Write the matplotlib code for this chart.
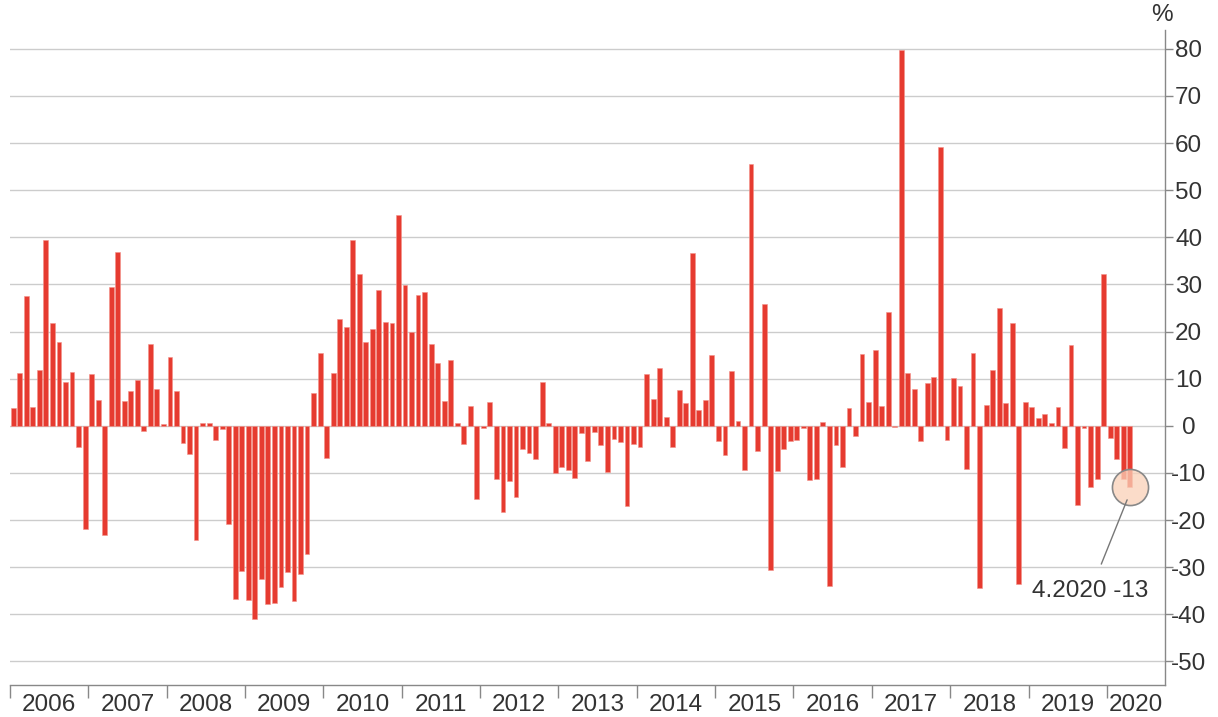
import matplotlib
matplotlib.use("Agg")
import matplotlib.pyplot as plt
import numpy as np

plt.rcParams['font.family'] = ['Liberation Sans', 'DejaVu Sans']
plt.rcParams['axes.unicode_minus'] = False

years = [str(y) for y in range(2006, 2021)]
v2006 = [3.8, 11.3, 27.6, 4.0, 11.8, 39.5, 21.8, 17.8, 9.3, 11.4, -4.5, -21.9]
v2007 = [11.1, 5.4, -23.2, 29.4, 36.8, 5.3, 7.3, 9.7, -1.1, 17.4, 7.9, 0.3]
v2008 = [14.6, 7.3, -3.7, -5.9, -24.3, 0.6, 0.5, -3.0, -0.7, -20.9, -36.7, -30.8]
v2009 = [-37.0, -41.0, -32.6, -37.8, -37.5, -34.1, -31.1, -37.2, -31.5, -27.3, 6.9, 15.5]
v2010 = [-6.9, 11.3, 22.7, 21.0, 39.5, 32.2, 17.8, 20.5, 28.8, 22.1, 21.8, 44.8]
v2011 = [29.8, 19.9, 27.8, 28.4, 17.4, 13.4, 5.2, 14.0, 0.5, -3.8, 4.3, -15.6]
v2012 = [-0.5, 5.0, -11.2, -18.3, -11.8, -15.0, -5.0, -5.8, -7.1, 9.2, 0.6, -10.0]
v2013 = [-8.7, -9.4, -11.0, -1.5, -7.5, -1.3, -4.1, -9.7, -2.9, -3.5, -17.1, -3.8]
v2014 = [-4.5, 10.9, 5.6, 12.3, 1.8, -4.4, 7.7, 4.8, 36.6, 3.3, 5.5, 15.0]
v2015 = [-3.3, -6.1, 11.6, 1.1, -9.4, 55.6, -5.3, 25.9, -30.7, -9.5, -5.0, -3.3]
v2016 = [-3.0, -0.4, -11.4, -11.3, 0.9, -34.0, -4.1, -8.7, 3.8, -2.1, 15.3, 5.0]
v2017 = [16.1, 4.3, 24.1, -0.3, 79.7, 11.3, 7.9, -3.3, 9.0, 10.4, 59.2, -3.0]
v2018 = [10.1, 8.4, -9.1, 15.5, -34.5, 4.5, 11.8, 25.0, 4.8, 21.9, -33.6, 5.1]
v2019 = [3.9, 1.7, 2.5, 0.6, 3.9, -4.6, 17.2, -16.9, -0.5, -12.9, -11.3, 32.2]
v2020 = [-2.5, -7.1, -11.2, -13.0]

values = (v2006 + v2007 + v2008 + v2009 + v2010 + v2011 + v2012 + v2013 +
          v2014 + v2015 + v2016 + v2017 + v2018 + v2019 + v2020)
yticks = list(range(-50, 81, 10))
annot_text = "4.2020 -13"

x = np.arange(len(values))
FS = 17.5
TXT = '#333333'

fig = plt.figure(figsize=(12.18, 7.17), dpi=100)
ax = fig.add_axes([10/1218, 1-685/717, (1165-10)/1218, (685-30)/717])

ax.bar(x, values, width=0.74, color='#e63b30', edgecolor='#f3928a', linewidth=0.4, zorder=3)

ax.set_xlim(-0.5, 176.4)
ax.set_ylim(-55, 84)

for t in yticks:
    ax.axhline(t, color='#cccccc', linewidth=1.0, zorder=1)

ax.yaxis.tick_right()
ax.set_yticks(yticks)
ax.set_yticklabels([str(t) for t in yticks], fontsize=FS, color=TXT)
ax.tick_params(axis='y', direction='out', length=6, width=1, color='#888888', pad=11)
for lab in ax.get_yticklabels():
    lab.set_horizontalalignment('center')

# year boundaries as ticks, labels centered between
bounds = [i * 12 - 0.5 for i in range(len(years))]
ax.set_xticks(bounds)
ax.set_xticklabels([])
ax.tick_params(axis='x', direction='out', length=9, width=1, color='#888888')
centers = [b + 6 for b in bounds[:-1]] + [(bounds[-1] + 176.4) / 2]
for c, yl in zip(centers, years):
    ax.text(c, -20/655, yl, transform=ax.get_xaxis_transform(), ha='center', va='center',
            fontsize=FS, color=TXT)

for s in ['left', 'top']:
    ax.spines[s].set_visible(False)
for s in ['right', 'bottom']:
    ax.spines[s].set_color('#888888')
    ax.spines[s].set_linewidth(1.0)

fig.text(1162/1218, 1-15/717, '%', ha='center', va='center', fontsize=FS, color=TXT)

# annotation
last = len(values) - 1
ax.plot(last, values[-1], 'o', ms=26, mfc=(0.98, 0.82, 0.72, 0.75), mec='#888888', mew=1.2, zorder=4)
ax.annotate(annot_text, xy=(last - 0.4, values[-1] - 2.7), xytext=(165.0, -35.0),
            ha='center', va='center', fontsize=FS, color=TXT,
            arrowprops=dict(arrowstyle='-', color='#777777', lw=1.0, shrinkA=10, shrinkB=0),
            zorder=5)

fig.savefig('out.png', dpi=100, facecolor='white')
